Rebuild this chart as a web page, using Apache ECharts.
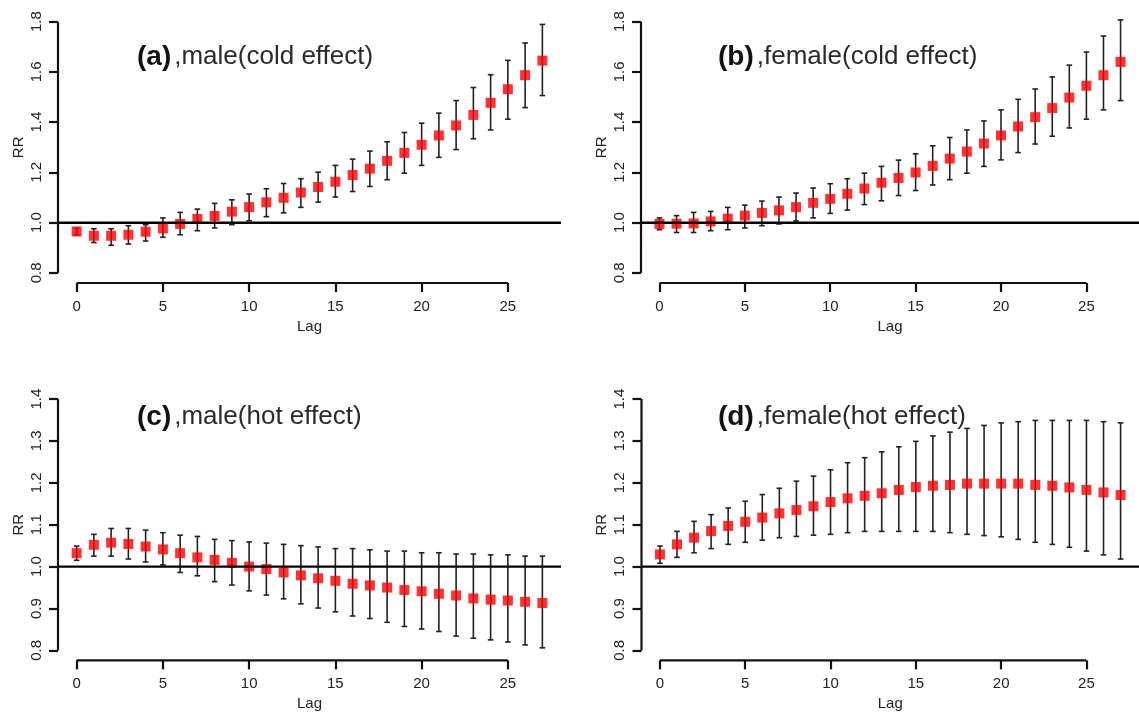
<!DOCTYPE html>
<html>
<head>
<meta charset="utf-8">
<script src="https://cdn.jsdelivr.net/npm/echarts@6/dist/echarts.min.js"></script>
<style>
html,body{margin:0;padding:0;background:#fff;}
#chart{width:1139px;height:714px;}
</style>
</head>
<body>
<div id="chart"></div>
<script>
// ---------- data ----------
const lags = [0,1,2,3,4,5,6,7,8,9,10,11,12,13,14,15,16,17,18,19,20,21,22,23,24,25,26,27];
const xTicks = [0,5,10,15,20,25];
const yTicksCold = [0.8,1.0,1.2,1.4,1.6,1.8];
const yTicksHot = [0.8,0.9,1.0,1.1,1.2,1.3,1.4];

const maleCold     = [0.965,0.948,0.948,0.952,0.964,0.977,0.995,1.015,1.027,1.044,1.062,1.081,1.099,1.120,1.142,1.163,1.190,1.215,1.246,1.278,1.310,1.347,1.387,1.429,1.477,1.531,1.587,1.645];
const maleColdLow  = [0.952,0.921,0.910,0.915,0.927,0.942,0.952,0.968,0.979,0.992,1.008,1.024,1.039,1.061,1.082,1.102,1.124,1.144,1.171,1.197,1.228,1.260,1.291,1.334,1.369,1.412,1.458,1.506];
const maleColdHigh = [0.978,0.976,0.976,0.988,0.992,1.019,1.041,1.054,1.077,1.091,1.114,1.135,1.156,1.175,1.201,1.228,1.253,1.285,1.322,1.359,1.396,1.436,1.486,1.538,1.589,1.646,1.715,1.789];

const femaleCold     = [0.995,0.996,0.997,1.005,1.016,1.028,1.039,1.049,1.062,1.079,1.095,1.115,1.136,1.159,1.178,1.200,1.226,1.255,1.283,1.315,1.347,1.383,1.420,1.456,1.498,1.545,1.587,1.640];
const femaleColdLow  = [0.972,0.961,0.961,0.968,0.972,0.979,0.988,0.995,1.007,1.019,1.037,1.050,1.072,1.087,1.108,1.128,1.150,1.171,1.197,1.224,1.250,1.279,1.313,1.344,1.377,1.412,1.449,1.486];
const femaleColdHigh = [1.019,1.028,1.041,1.045,1.061,1.070,1.086,1.102,1.118,1.138,1.155,1.175,1.197,1.224,1.249,1.274,1.306,1.339,1.369,1.405,1.449,1.491,1.532,1.580,1.627,1.679,1.743,1.807];

const maleHot     = [1.032,1.052,1.057,1.054,1.048,1.041,1.032,1.022,1.016,1.009,1.000,0.994,0.986,0.979,0.972,0.966,0.959,0.955,0.950,0.944,0.941,0.935,0.931,0.924,0.921,0.919,0.916,0.913];
const maleHotLow  = [1.015,1.025,1.025,1.018,1.011,1.004,0.986,0.978,0.964,0.956,0.942,0.932,0.923,0.911,0.901,0.892,0.882,0.876,0.867,0.857,0.851,0.845,0.834,0.829,0.825,0.820,0.813,0.806];
const maleHotHigh = [1.049,1.077,1.091,1.091,1.087,1.081,1.075,1.072,1.065,1.062,1.059,1.056,1.053,1.050,1.047,1.043,1.043,1.040,1.037,1.037,1.033,1.033,1.030,1.030,1.028,1.028,1.025,1.025];

const femaleHot     = [1.029,1.053,1.069,1.085,1.097,1.107,1.117,1.127,1.135,1.144,1.154,1.163,1.169,1.175,1.183,1.190,1.193,1.195,1.198,1.198,1.198,1.198,1.195,1.193,1.189,1.183,1.177,1.171];
const femaleHotLow  = [1.008,1.022,1.033,1.043,1.053,1.058,1.063,1.069,1.072,1.075,1.077,1.081,1.084,1.084,1.084,1.084,1.084,1.081,1.077,1.074,1.071,1.065,1.058,1.053,1.046,1.037,1.028,1.018];
const femaleHotHigh = [1.049,1.084,1.108,1.124,1.140,1.156,1.172,1.187,1.204,1.216,1.231,1.248,1.260,1.274,1.286,1.299,1.312,1.321,1.330,1.337,1.343,1.346,1.349,1.349,1.349,1.349,1.346,1.343];

const titles = [
  ['(a)', ',male(cold effect)'],
  ['(b)', ',female(cold effect)'],
  ['(c)', ',male(hot effect)'],
  ['(d)', ',female(hot effect)']
];

// ---------- layout ----------
const FONT = '"Liberation Sans", Arial, Helvetica, sans-serif';
const XMIN = -1.08, XMAX = 28.08;
const panels = [
  {grid:{left:58, top:11.6, width:503, height:271.4}, ticks:yTicksCold, ymin:0.76, ymax:1.84,
   v:maleCold, lo:maleColdLow, hi:maleColdHigh, tl:137, tt:41},
  {grid:{left:641, top:11.6, width:502.5, height:271.4}, ticks:yTicksCold, ymin:0.76, ymax:1.84,
   v:femaleCold, lo:femaleColdLow, hi:femaleColdHigh, tl:718, tt:41},
  {grid:{left:58, top:389, width:503, height:271.4}, ticks:yTicksHot, ymin:0.776, ymax:1.424,
   v:maleHot, lo:maleHotLow, hi:maleHotHigh, tl:137, tt:401},
  {grid:{left:641.5, top:389, width:502.5, height:271.4}, ticks:yTicksHot, ymin:0.776, ymax:1.424,
   v:femaleHot, lo:femaleHotLow, hi:femaleHotHigh, tl:718, tt:401}
];

const option = {
  backgroundColor:'#fff',
  animation:false,
  textStyle:{fontFamily:FONT},
  title:[], grid:[], xAxis:[], yAxis:[], series:[]
};

const axisColor = '#111';
const textColor = '#222';

panels.forEach((p, i) => {
  option.title.push({
    text: '{b|' + titles[i][0] + '}{r|' + titles[i][1] + '}',
    left: p.tl, top: p.tt, padding:0,
    textStyle:{
      fontWeight:'normal',
      rich:{
        b:{fontFamily:FONT, fontSize:28, fontWeight:'bold', color:'#111', lineHeight:32},
        r:{fontFamily:FONT, fontSize:26, fontWeight:'normal', color:'#2a2a2a', lineHeight:32, padding:[0,0,0,3]}
      }
    }
  });
  option.grid.push(Object.assign({containLabel:false}, p.grid));
  option.xAxis.push({
    type:'value', gridIndex:i, min:XMIN, max:XMAX,
    axisLine:{show:false, onZero:false}, splitLine:{show:false},
    axisTick:{show:true, customValues:xTicks, length:9, lineStyle:{color:axisColor, width:2.2}},
    axisLabel:{show:true, customValues:xTicks, fontSize:15, color:textColor, margin:16, fontFamily:FONT},
    name:'Lag', nameLocation:'middle', nameGap:36,
    nameTextStyle:{fontSize:15, color:textColor, fontFamily:FONT}
  });
  option.yAxis.push({
    type:'value', gridIndex:i, min:p.ymin, max:p.ymax,
    axisLine:{show:false, onZero:false}, splitLine:{show:false},
    axisTick:{show:true, customValues:p.ticks, length:9, lineStyle:{color:axisColor, width:2.2}},
    axisLabel:{show:true, customValues:p.ticks, rotate:90, fontSize:15, color:textColor, margin:14,
      fontFamily:FONT, formatter:(v)=>Number(v).toFixed(1)},
    name:'RR', nameLocation:'middle', nameGap:32, nameRotate:90,
    nameTextStyle:{fontSize:15, color:textColor, fontFamily:FONT}
  });
  const base = {xAxisIndex:i, yAxisIndex:i, silent:true, animation:false};
  // reference line at RR = 1
  option.series.push(Object.assign({
    type:'line', data:[[XMIN,1],[XMAX,1]], symbol:'none', clip:false,
    lineStyle:{color:'#000', width:2.4}
  }, base));
  // y axis line (from first to last tick)
  option.series.push(Object.assign({
    type:'line', data:[[XMIN,p.ticks[0]],[XMIN,p.ticks[p.ticks.length-1]]], symbol:'none', clip:false,
    lineStyle:{color:axisColor, width:2.2}
  }, base));
  // x axis line (from first to last tick)
  option.series.push(Object.assign({
    type:'line', data:[[xTicks[0],p.ymin],[xTicks[xTicks.length-1],p.ymin]], symbol:'none', clip:false,
    lineStyle:{color:axisColor, width:2.2}
  }, base));
  // error bars
  option.series.push(Object.assign({
    type:'custom', clip:false,
    data: lags.map((l,k)=>[l, p.lo[k], p.hi[k]]),
    renderItem:(params, api)=>{
      const x = api.value(0);
      const a = api.coord([x, api.value(1)]);
      const b = api.coord([x, api.value(2)]);
      const w = 2.8;
      const st = {stroke:'#222', lineWidth:1.6};
      return {type:'group', children:[
        {type:'line', shape:{x1:a[0], y1:a[1], x2:b[0], y2:b[1]}, style:st},
        {type:'line', shape:{x1:a[0]-w, y1:a[1], x2:a[0]+w, y2:a[1]}, style:st},
        {type:'line', shape:{x1:b[0]-w, y1:b[1], x2:b[0]+w, y2:b[1]}, style:st}
      ]};
    }
  }, base));
  // point estimates
  option.series.push(Object.assign({
    type:'scatter', symbol:'rect', symbolSize:10,
    itemStyle:{color:'#ff0000'},
    data: lags.map((l,k)=>[l, p.v[k]])
  }, base));
});

const chart = echarts.init(document.getElementById('chart'), null, {renderer:'canvas'});
chart.setOption(option);
</script>
</body>
</html>
